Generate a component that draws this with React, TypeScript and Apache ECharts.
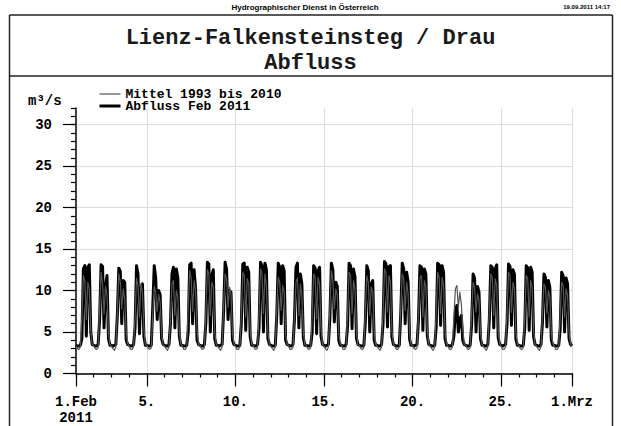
import React, { useEffect, useRef } from "react";
import * as echarts from "echarts";

// Hourly values every 2 h (00,02,...,22 h) per day, 1.Feb .. 28.Feb 2011
const abflussFeb2011: number[][] = [
  [3.4, 3.3, 3.3, 3.4, 4.2, 12.6, 13.0, 4.5, 12.8, 13.1, 5.0, 3.5],
  [3.4, 3.3, 3.3, 3.5, 6.5, 13.1, 12.9, 5.5, 10.5, 11.8, 4.2, 3.4],
  [3.4, 3.3, 3.4, 3.5, 7.0, 12.7, 12.3, 6.0, 11.2, 11.0, 4.0, 3.5],
  [3.4, 3.3, 3.3, 3.5, 5.5, 13.0, 12.0, 4.8, 10.2, 10.8, 4.5, 3.4],
  [3.4, 3.3, 3.3, 3.4, 8.0, 13.0, 11.5, 6.5, 10.0, 9.5, 4.2, 3.5],
  [3.4, 3.3, 3.3, 3.5, 6.0, 12.0, 12.8, 5.5, 12.6, 11.5, 4.5, 3.4],
  [3.4, 3.3, 3.3, 3.4, 5.0, 13.1, 13.3, 6.0, 12.5, 10.2, 4.0, 3.5],
  [3.4, 3.3, 3.3, 3.5, 6.2, 13.4, 13.2, 5.0, 11.8, 12.5, 4.2, 3.4],
  [3.4, 3.3, 3.4, 3.5, 7.5, 13.4, 12.6, 6.5, 10.0, 9.8, 4.0, 3.5],
  [3.4, 3.3, 3.3, 3.4, 6.0, 13.2, 13.3, 5.2, 12.8, 12.2, 4.4, 3.4],
  [3.4, 3.3, 3.3, 3.5, 5.5, 13.4, 13.0, 5.0, 13.3, 12.5, 4.2, 3.5],
  [3.4, 3.3, 3.3, 3.4, 7.0, 13.3, 12.8, 6.0, 13.0, 12.4, 4.0, 3.5],
  [3.4, 3.3, 3.3, 3.5, 6.5, 12.8, 13.3, 5.5, 12.0, 10.8, 4.3, 3.4],
  [3.4, 3.3, 3.3, 3.4, 5.0, 13.0, 12.7, 4.8, 12.4, 12.8, 4.5, 3.5],
  [3.4, 3.3, 3.4, 3.5, 6.8, 13.3, 12.5, 6.2, 11.0, 10.5, 4.0, 3.4],
  [3.4, 3.3, 3.3, 3.5, 5.8, 13.3, 13.0, 5.4, 12.6, 11.6, 4.2, 3.5],
  [3.4, 3.3, 3.3, 3.4, 6.2, 13.0, 12.4, 5.0, 10.8, 11.2, 4.0, 3.4],
  [3.4, 3.3, 3.3, 3.5, 6.0, 13.5, 13.2, 5.6, 12.9, 13.0, 4.4, 3.5],
  [3.4, 3.3, 3.3, 3.4, 7.2, 13.3, 12.6, 6.0, 12.2, 11.0, 4.1, 3.4],
  [3.4, 3.3, 3.4, 3.5, 6.4, 13.0, 12.8, 5.2, 12.6, 12.0, 4.5, 3.5],
  [3.4, 3.3, 3.3, 3.4, 5.6, 13.3, 13.1, 5.8, 13.0, 12.2, 4.2, 3.4],
  [3.4, 3.3, 3.3, 3.5, 4.5, 7.5, 8.2, 5.0, 6.5, 7.0, 4.0, 3.5],
  [3.4, 3.3, 3.3, 3.4, 5.8, 12.0, 11.5, 5.0, 10.5, 9.8, 4.2, 3.4],
  [3.4, 3.3, 3.3, 3.5, 6.5, 13.0, 12.8, 5.5, 12.6, 13.1, 4.3, 3.5],
  [3.4, 3.3, 3.4, 3.5, 6.0, 13.2, 12.9, 5.8, 12.5, 12.0, 4.1, 3.4],
  [3.4, 3.3, 3.3, 3.4, 5.5, 13.0, 12.7, 5.2, 12.8, 12.2, 4.4, 3.5],
  [3.4, 3.3, 3.3, 3.5, 6.2, 12.0, 11.6, 5.6, 11.2, 10.4, 4.0, 3.4],
  [3.4, 3.3, 3.3, 3.4, 5.4, 12.2, 11.8, 5.0, 11.5, 10.8, 4.2, 3.5],
];
const abflussEnd = 3.3;

const mittel1993bis2010: number[][] = [
  [3.3, 3.0, 2.9, 3.2, 7.0, 11.8, 11.2, 6.5, 11.0, 10.2, 5.2, 3.5],
  [3.4, 3.0, 2.9, 3.1, 8.0, 12.2, 10.8, 7.2, 10.5, 9.5, 4.8, 3.5],
  [3.3, 3.0, 2.8, 3.2, 7.5, 12.0, 11.0, 7.8, 10.2, 9.0, 5.0, 3.6],
  [3.3, 2.9, 2.9, 3.2, 6.8, 11.5, 10.5, 6.8, 10.8, 9.8, 5.4, 3.5],
  [3.4, 3.0, 2.9, 3.1, 7.2, 10.5, 9.8, 7.5, 9.5, 8.6, 4.8, 3.5],
  [3.3, 3.0, 2.8, 3.2, 6.5, 10.8, 11.2, 7.0, 10.0, 9.2, 5.0, 3.6],
  [3.3, 2.9, 2.9, 3.2, 7.8, 12.4, 11.5, 7.5, 11.2, 10.0, 5.2, 3.5],
  [3.4, 3.0, 2.9, 3.1, 7.6, 12.5, 12.0, 7.0, 11.0, 10.5, 5.0, 3.5],
  [3.3, 3.0, 2.8, 3.2, 8.2, 12.0, 11.4, 8.0, 10.4, 9.6, 4.8, 3.6],
  [3.3, 2.9, 2.9, 3.2, 7.0, 12.2, 11.8, 6.8, 11.4, 10.8, 5.2, 3.5],
  [3.4, 3.0, 2.9, 3.1, 7.4, 12.6, 12.0, 7.2, 12.0, 10.6, 5.0, 3.5],
  [3.3, 3.0, 2.8, 3.2, 7.8, 11.6, 11.0, 7.6, 10.6, 9.8, 4.8, 3.6],
  [3.3, 2.9, 2.9, 3.2, 6.6, 11.0, 11.5, 7.0, 10.8, 9.4, 5.0, 3.5],
  [3.4, 3.0, 2.9, 3.1, 7.2, 12.0, 11.6, 6.6, 11.6, 10.8, 5.4, 3.5],
  [3.3, 3.0, 2.8, 3.2, 8.0, 12.4, 11.2, 7.8, 10.2, 9.4, 4.8, 3.6],
  [3.3, 2.9, 2.9, 3.2, 7.4, 12.2, 11.8, 7.2, 11.2, 10.2, 5.0, 3.5],
  [3.4, 3.0, 2.9, 3.1, 7.6, 11.8, 11.0, 7.0, 10.4, 9.8, 5.0, 3.5],
  [3.3, 3.0, 2.8, 3.2, 7.2, 12.6, 12.2, 7.4, 11.8, 11.0, 5.2, 3.6],
  [3.3, 2.9, 2.9, 3.2, 7.8, 12.0, 11.4, 7.6, 11.0, 9.6, 4.8, 3.5],
  [3.4, 3.0, 2.9, 3.1, 7.0, 11.6, 11.8, 6.8, 11.2, 10.4, 5.2, 3.5],
  [3.3, 3.0, 2.8, 3.2, 7.4, 12.2, 11.6, 7.2, 11.6, 10.6, 5.0, 3.6],
  [3.3, 2.9, 2.9, 3.2, 6.8, 10.2, 10.6, 8.0, 9.8, 8.4, 5.4, 3.5],
  [3.4, 3.0, 2.9, 3.1, 7.2, 11.0, 10.4, 7.4, 9.6, 8.8, 5.0, 3.5],
  [3.3, 3.0, 2.8, 3.2, 7.6, 12.0, 11.6, 7.0, 11.4, 10.6, 5.2, 3.6],
  [3.3, 2.9, 2.9, 3.2, 7.4, 12.2, 11.8, 7.4, 11.0, 10.2, 5.0, 3.5],
  [3.4, 3.0, 2.9, 3.1, 7.0, 11.8, 11.4, 6.8, 11.2, 10.4, 5.2, 3.5],
  [3.3, 3.0, 2.8, 3.2, 7.2, 10.8, 10.4, 7.2, 10.0, 9.2, 4.8, 3.6],
  [3.3, 2.9, 2.9, 3.2, 7.0, 11.0, 10.6, 6.8, 10.2, 9.4, 5.0, 3.5],
];
const mittelEnd = 3.3;

const stepHours = 2;
const tickDays = [1, 5, 10, 15, 20, 25, 29];
const tickLabels = ["1.Feb\n2011", "5.", "10.", "15.", "20.", "25.", "1.Mrz"];
const yTicks = [0, 5, 10, 15, 20, 25, 30];

const MONO = '"Liberation Mono", "DejaVu Sans Mono", monospace';

export default function App() {
  const ref = useRef<HTMLDivElement>(null);

  useEffect(() => {
    if (!ref.current) return;
    const chart = echarts.init(ref.current, null, { renderer: "svg" });

    const black = [...abflussFeb2011.flat(), abflussEnd];
    const gray = [...mittel1993bis2010.flat(), mittelEnd];
    const perDay = 24 / stepHours;
    const cats = black.map((_, i) => String(i * stepHours));
    const majorIdx = new Set(tickDays.map((d) => (d - 1) * perDay));
    const labelMap: Record<string, string> = {};
    tickDays.forEach((d, k) => {
      labelMap[String((d - 1) * 24)] = tickLabels[k];
    });

    const H = 426;
    const gLeft = 76, gRight = 49, gTop = 108, gBottom = 52.5;
    const yMaxAll = 32;
    const yMaxMajor = yTicks[yTicks.length - 1];
    const plotH = H - gTop - gBottom;
    const majorTop = gTop + plotH * (yMaxAll - yMaxMajor) / yMaxAll;

    const frame = { stroke: "#222", lineWidth: 1.5 };

    chart.setOption({
      animation: false,
      backgroundColor: "#ffffff",
      title: {
        text: "Lienz-Falkensteinsteg / Drau\nAbfluss",
        left: "center",
        top: 25.5,
        padding: 0,
        textStyle: {
          fontFamily: MONO,
          fontWeight: "bold",
          fontSize: 22,
          lineHeight: 25,
          color: "#1a1a1a",
        },
      },
      legend: {
        orient: "vertical",
        left: 98,
        top: 87.5,
        padding: 0,
        itemWidth: 21,
        itemHeight: 10,
        itemGap: -1,
        data: [
          { name: "Mittel 1993 bis 2010", lineStyle: { width: 1.2, color: "#555" } },
          { name: "Abfluss Feb 2011", lineStyle: { width: 3, color: "#000" } },
        ],
        itemStyle: {
          color: "rgba(0,0,0,0)",
          borderColor: "rgba(0,0,0,0)",
          borderWidth: 0,
        },
        textStyle: {
          fontFamily: MONO,
          fontWeight: "bold",
          fontSize: 13,
          color: "#000",
        },
      },
      grid: [
        { left: gLeft, right: gRight, top: gTop, bottom: gBottom },
        { left: gLeft, right: gRight, top: majorTop, bottom: gBottom },
      ],
      xAxis: [
        {
          gridIndex: 0,
          type: "category",
          data: cats,
          boundaryGap: false,
          position: "bottom",
          axisLine: { lineStyle: { color: "#000", width: 1.5 } },
          axisTick: {
            interval: (i: number) => i % perDay === 0,
            length: 4,
            lineStyle: { color: "#000", width: 1.2 },
          },
          axisLabel: {
            interval: (i: number) => majorIdx.has(i),
            formatter: (v: string) => labelMap[v] ?? "",
            fontFamily: MONO,
            fontWeight: "bold",
            fontSize: 14,
            lineHeight: 16,
            margin: 20,
            color: "#000",
          },
          splitLine: { show: false },
        },
        {
          gridIndex: 0,
          type: "category",
          data: cats,
          boundaryGap: false,
          position: "bottom",
          axisLine: { show: false },
          axisTick: {
            interval: (i: number) => majorIdx.has(i),
            length: 13,
            lineStyle: { color: "#000", width: 1.2 },
          },
          axisLabel: { show: false },
          splitLine: {
            show: true,
            interval: (i: number) => majorIdx.has(i) && i !== 0,
            lineStyle: { color: "#dcdcdc", width: 1 },
          },
        },
        { gridIndex: 1, type: "value", show: false, min: 0, max: 1 },
      ],
      yAxis: [
        {
          gridIndex: 0,
          type: "value",
          min: 0,
          max: yMaxAll,
          interval: 1,
          axisLine: { show: true, lineStyle: { color: "#000", width: 1.5 } },
          axisTick: { show: true, length: 5, lineStyle: { color: "#000", width: 1.2 } },
          axisLabel: { show: false },
          splitLine: { show: false },
        },
        {
          gridIndex: 1,
          type: "value",
          min: 0,
          max: yMaxMajor,
          interval: 5,
          axisLine: { show: false },
          axisTick: { show: true, length: 13, lineStyle: { color: "#000", width: 1.2 } },
          axisLabel: {
            margin: 24,
            fontFamily: MONO,
            fontWeight: "bold",
            fontSize: 14,
            color: "#000",
          },
          splitLine: { show: true, lineStyle: { color: "#dcdcdc", width: 1 } },
        },
      ],
      series: [
        {
          name: "Abfluss Feb 2011",
          type: "line",
          xAxisIndex: 0,
          yAxisIndex: 0,
          data: black,
          symbol: "none",
          showSymbol: false,
          lineStyle: { color: "#000", width: 3, join: "round" },
          itemStyle: { color: "#000" },
          z: 3,
        },
        {
          name: "Mittel 1993 bis 2010",
          type: "line",
          xAxisIndex: 0,
          yAxisIndex: 0,
          data: gray,
          symbol: "none",
          showSymbol: false,
          lineStyle: { color: "#555", width: 1.2, join: "round" },
          itemStyle: { color: "#555" },
          z: 4,
        },
      ],
      graphic: [
        { type: "line", shape: { x1: 9.5, y1: 15, x2: 612.5, y2: 15 }, style: frame },
        { type: "line", shape: { x1: 9.5, y1: 76, x2: 612.5, y2: 76 }, style: frame },
        { type: "line", shape: { x1: 9.5, y1: 15, x2: 9.5, y2: H }, style: frame },
        { type: "line", shape: { x1: 612.5, y1: 15, x2: 612.5, y2: H }, style: frame },
        {
          type: "text",
          x: 305,
          y: 7,
          style: {
            text: "Hydrographischer Dienst in Österreich",
            font: 'bold 8px "Liberation Sans", sans-serif',
            fill: "#000",
            textAlign: "center",
            textVerticalAlign: "middle",
          },
        },
        {
          type: "text",
          x: 610,
          y: 7,
          style: {
            text: "19.09.2011 14:17",
            font: 'bold 6px "Liberation Sans", sans-serif',
            fill: "#000",
            textAlign: "right",
            textVerticalAlign: "middle",
          },
        },
        {
          type: "text",
          x: 28,
          y: 101,
          style: {
            text: "m³/s",
            font: `bold 14px ${MONO}`,
            fill: "#000",
            textAlign: "left",
            textVerticalAlign: "middle",
          },
        },
      ],
    });

    return () => chart.dispose();
  }, []);

  return (
    <div
      ref={ref}
      style={{ position: "absolute", left: 0, top: 0, width: 621, height: 426, background: "#fff" }}
    />
  );
}
